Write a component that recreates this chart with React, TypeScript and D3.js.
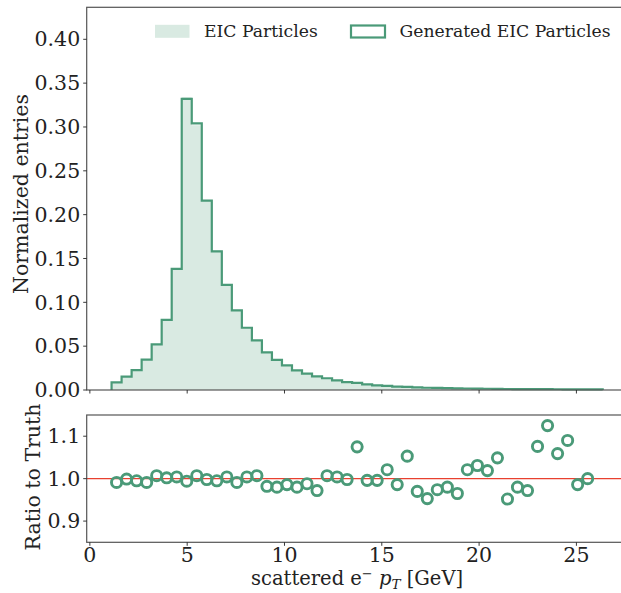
import React from "react";
import * as d3 from "d3";

// ---- data ----
const binLow = 1.115;
const binWidth = 0.515;
const truthValues = [
  0.0088, 0.0152, 0.0228, 0.035, 0.0517, 0.0798, 0.1377, 0.334, 0.302, 0.2164,
  0.159, 0.1194, 0.0916, 0.0707, 0.0562, 0.0437, 0.035, 0.0285, 0.0228, 0.019,
  0.016, 0.0133, 0.011, 0.0091, 0.0076, 0.0065, 0.0053, 0.0046, 0.004, 0.0034,
  0.003, 0.0027, 0.0024, 0.0021, 0.0019, 0.0017, 0.0015, 0.0014, 0.0013, 0.0012,
  0.0011, 0.001, 0.0009, 0.0009, 0.0008, 0.0007, 0.0007, 0.0006, 0.0006,
];
const ratioValues = [
  0.991, 0.999, 0.995, 0.991, 1.007, 1.002, 1.004, 0.994, 1.007, 0.998,
  0.995, 1.004, 0.991, 1.004, 1.007, 0.982, 0.98, 0.986, 0.98, 0.988,
  0.972, 1.007, 1.004, 0.998, 1.075, 0.996, 0.996, 1.021, 0.986, 1.053,
  0.97, 0.953, 0.974, 0.98, 0.965, 1.021, 1.031, 1.019, 1.049, 0.952,
  0.98, 0.972, 1.076, 1.125, 1.059, 1.09, 0.986, 1.0,
];
const xTicks = [0, 5, 10, 15, 20, 25];
const yTopTicks = [0, 0.05, 0.1, 0.15, 0.2, 0.25, 0.3, 0.35, 0.4];
const yBotTicks = [0.9, 1.0, 1.1];
const legendLabels = ["EIC Particles", "Generated EIC Particles"];

// ---- style ----
const GREEN = "#4a9a78";
const FILL = "#d9eae2";
const SPINE = "#555";
const FONT = "'DejaVu Serif', 'Liberation Serif', serif";
const FS = 20.5;
const FS_LEG = 17.2;

const W = 621;
const H = 593;
const left = 86.7;
const right = 627.4;
const topY0 = 7.3;
const topY1 = 390;
const botY0 = 415;
const botY1 = 542.3;

export default function App() {
  const x = d3.scaleLinear().domain([-0.163, 27.62]).range([left, right]);
  const yTop = d3.scaleLinear().domain([0, 0.4365]).range([topY1, topY0]);
  const yBot = d3.scaleLinear().domain([0.85, 1.15]).range([botY1, botY0]);

  const edges = truthValues.map((_, i) => binLow + i * binWidth);
  const genValues = truthValues.map((v, i) =>
    i < ratioValues.length ? v * ratioValues[i] : v
  );

  const stepPts = (vals: number[]): [number, number][] => {
    const pts: [number, number][] = [[edges[0], 0]];
    vals.forEach((v, i) => {
      pts.push([edges[i], v]);
      pts.push([edges[i] + binWidth, v]);
    });
    pts.push([edges[vals.length - 1] + binWidth, 0]);
    return pts;
  };

  const line = d3
    .line<[number, number]>()
    .x((d) => x(d[0]))
    .y((d) => yTop(d[1]));

  const fillPath = line(stepPts(truthValues)) + "Z";
  const stepPath = line(stepPts(genValues)) || "";

  return (
    <div style={{ position: "absolute", left: 0, top: 0 }}>
      <svg width={W} height={H} style={{ display: "block", fontFamily: FONT }}>
        <rect x={0} y={0} width={W} height={H} fill="#fff" />
        {/* top panel */}
        <path d={fillPath} fill={FILL} stroke="none" />
        <path d={stepPath} fill="none" stroke={GREEN} strokeWidth={2.2} strokeLinejoin="miter" />
        <rect
          x={left}
          y={topY0}
          width={right - left}
          height={topY1 - topY0}
          fill="none"
          stroke={SPINE}
          strokeWidth={1.2}
        />
        {yTopTicks.map((t) => (
          <g key={"yt" + t}>
            <line x1={left - 3.5} x2={left} y1={yTop(t)} y2={yTop(t)} stroke="#222" strokeWidth={0.9} />
            <text x={left - 6.5} y={yTop(t)} dy="0.35em" textAnchor="end" fontSize={FS} fill="#222">
              {t.toFixed(2)}
            </text>
          </g>
        ))}
        {xTicks.map((t) => (
          <line key={"xtt" + t} x1={x(t)} x2={x(t)} y1={topY1} y2={topY1 + 3.5} stroke="#222" strokeWidth={0.9} />
        ))}
        <text
          transform={`translate(21,194) rotate(-90)`}
          textAnchor="middle"
          dy="0.35em"
          fontSize={FS}
          fill="#222"
        >
          Normalized entries
        </text>

        {/* legend */}
        <rect x={155} y={24.8} width={34.5} height={13} fill={FILL} />
        <text x={204} y={37.2} fontSize={FS_LEG} fill="#222">
          {legendLabels[0]}
        </text>
        <rect x={351} y={25.5} width={34} height={12} fill="#fff" stroke={GREEN} strokeWidth={2.2} />
        <text x={399.6} y={37.2} fontSize={FS_LEG} fill="#222">
          {legendLabels[1]}
        </text>

        {/* bottom panel */}
        <line x1={left} x2={right} y1={yBot(1)} y2={yBot(1)} stroke="#e8402f" strokeWidth={1.2} />
        {ratioValues.map((r, i) => (
          <circle
            key={"c" + i}
            cx={x(edges[i] + binWidth / 2)}
            cy={yBot(r)}
            r={5.1}
            fill="none"
            stroke={GREEN}
            strokeWidth={2.9}
          />
        ))}
        <rect
          x={left}
          y={botY0}
          width={right - left}
          height={botY1 - botY0}
          fill="none"
          stroke={SPINE}
          strokeWidth={1.2}
        />
        {yBotTicks.map((t) => (
          <g key={"yb" + t}>
            <line x1={left - 3.5} x2={left} y1={yBot(t)} y2={yBot(t)} stroke="#222" strokeWidth={0.9} />
            <text x={left - 6.5} y={yBot(t)} dy="0.35em" textAnchor="end" fontSize={FS} fill="#222">
              {t.toFixed(1)}
            </text>
          </g>
        ))}
        {xTicks.map((t) => (
          <g key={"xb" + t}>
            <line x1={x(t)} x2={x(t)} y1={botY1} y2={botY1 + 3.5} stroke="#222" strokeWidth={0.9} />
            <text x={x(t)} y={botY1 + 20} textAnchor="middle" fontSize={FS} fill="#222">
              {t}
            </text>
          </g>
        ))}
        <text
          transform={`translate(33,477) rotate(-90)`}
          textAnchor="middle"
          dy="0.35em"
          fontSize={FS}
          fill="#222"
        >
          Ratio to Truth
        </text>
        <text x={(left + right) / 2} y={585} textAnchor="middle" fontSize={19.5} fill="#222">
          scattered e
          <tspan dy={-7} fontSize={13}>−</tspan>
          <tspan dy={7}> </tspan>
          <tspan fontStyle="italic">p</tspan>
          <tspan fontStyle="italic" fontSize={13.5} dy={4}>T</tspan>
          <tspan dy={-4}> [GeV]</tspan>
        </text>
      </svg>
    </div>
  );
}
